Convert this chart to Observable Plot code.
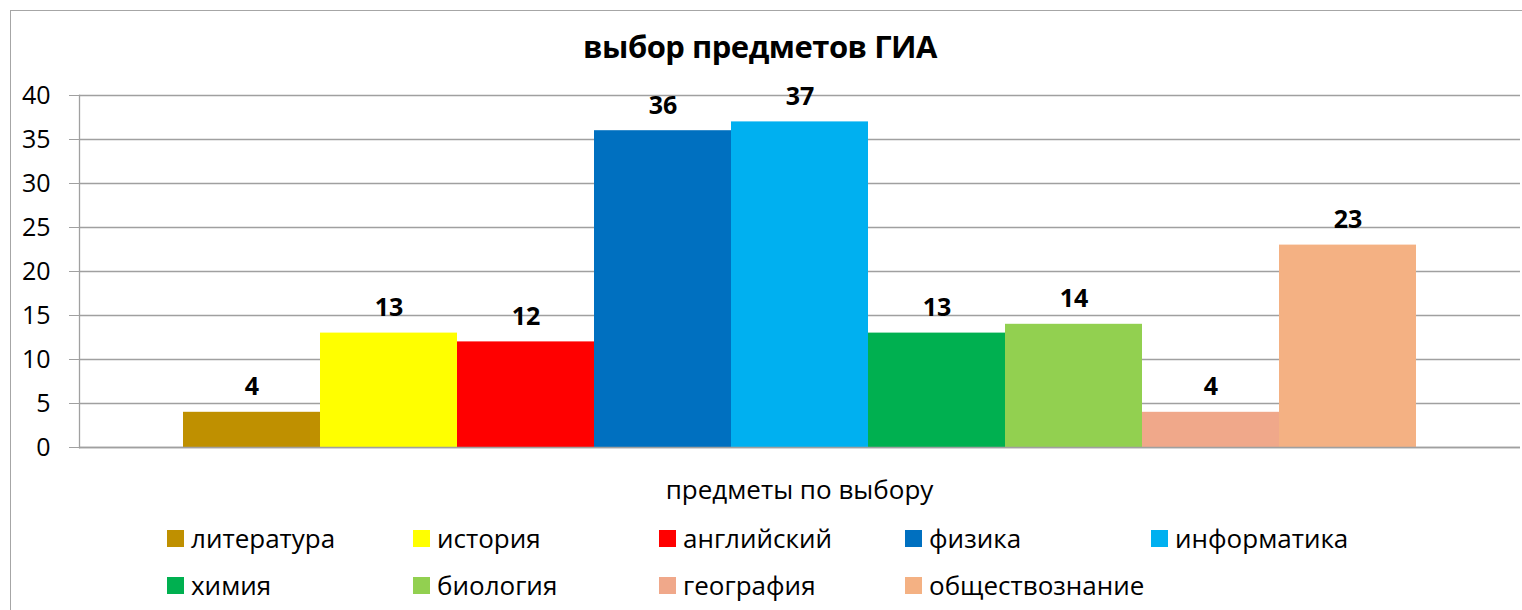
<!DOCTYPE html>
<html><head><meta charset="utf-8">
<script src="https://cdn.jsdelivr.net/npm/d3@7"></script>
<script src="https://cdn.jsdelivr.net/npm/@observablehq/plot@0.6"></script>
<style>
body{margin:0;background:#fff;font-family:"Open Sans",sans-serif;}
#wrap{position:relative;width:1522px;height:610px;overflow:hidden;}
#border{position:absolute;left:10px;top:10px;width:1530px;height:620px;border:1.5px solid #a6a6a6;box-sizing:border-box;}
#title{position:absolute;top:25px;left:0;width:1520px;text-align:center;font-weight:bold;font-size:31px;color:#000;letter-spacing:-0.5px;}
#xtitle{position:absolute;top:471px;left:79px;width:1441px;text-align:center;font-size:26px;color:#000;}
#legend{position:absolute;left:167px;top:521px;display:grid;grid-template-columns:repeat(5,246px);row-gap:13px;}
.li{display:flex;align-items:center;font-size:26px;height:34px;color:#000;white-space:nowrap;}
.sw{width:17px;height:17px;margin-right:7px;flex:none;}
#chart{position:absolute;left:0;top:0;}
</style></head>
<body>
<div id="wrap">
<div id="border"></div>
<div id="chart"></div>
<div id="title"></div>
<div id="xtitle"></div>
<div id="legend"></div>
</div>
<script>
const titleText = "выбор предметов ГИА";
const xTitle = "предметы по выбору";
const subjects = ["литература","история","английский","физика","информатика","химия","биология","география","обществознание"];
const counts = [4,13,12,36,37,13,14,4,23];
const colors = ["#BF9000","#FFFF00","#FF0000","#0070C0","#00B0F0","#00B050","#92D050","#F0A88A","#F4B183"];
const yTicks = [0,5,10,15,20,25,30,35,40];

const data = subjects.map((s,i)=>({subject:s,count:counts[i]}));

document.getElementById("title").textContent = titleText;
document.getElementById("xtitle").textContent = xTitle;
const leg = document.getElementById("legend");
subjects.forEach((s,i)=>{
  const d = document.createElement("div"); d.className="li";
  const sw = document.createElement("span"); sw.className="sw"; sw.style.background=colors[i];
  const t = document.createElement("span"); t.textContent=s;
  d.appendChild(sw); d.appendChild(t); leg.appendChild(d);
});

const chart = Plot.plot({
  width:1522, height:610,
  marginLeft:79, marginRight:2, marginTop:95, marginBottom:163,
  style:{fontFamily:"Open Sans", background:"transparent", color:"#000"},
  x:{domain:subjects, paddingInner:0, paddingOuter:0.752, axis:null},
  y:{domain:[0,40], ticks:yTicks, label:null},
  color:{domain:subjects, range:colors},
  marks:[
    Plot.gridY(yTicks,{stroke:"#a0a0a0", strokeOpacity:1, strokeWidth:1.3}),
    Plot.axisY(yTicks,{tickSize:10, tickPadding:19, fontSize:25, stroke:"#a0a0a0", fill:"#000", label:null}),
    Plot.barY(data,{x:"subject", y:"count", fill:"subject"}),
    Plot.ruleY([0],{stroke:"#a0a0a0", strokeWidth:1.3}),
    Plot.frame({anchor:"left", stroke:"#a0a0a0", strokeWidth:1.3}),
    Plot.text(data,{x:"subject", y:"count", text:d=>String(d.count), dy:-25, fontWeight:"bold", fontSize:25, fill:"#000"})
  ]
});
document.getElementById("chart").appendChild(chart);
</script>
</body></html>
